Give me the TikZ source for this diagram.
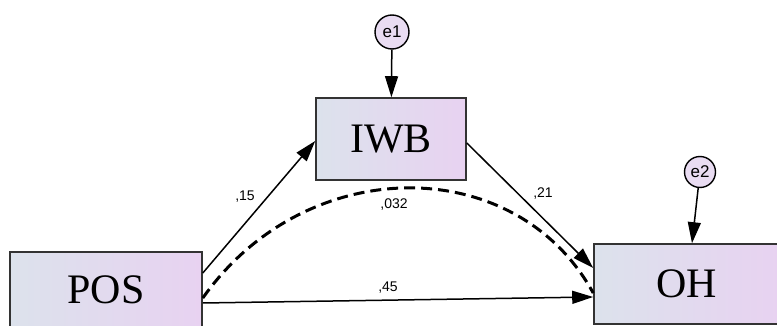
\documentclass[tikz,border=0pt]{standalone}
\usepackage{fontspec}
\setmainfont{Liberation Serif}
\newfontfamily\lblfont{Liberation Sans}
\usepackage{tikz}
\usetikzlibrary{arrows.meta}
\definecolor{boxleft}{HTML}{DCE2EC}
\definecolor{boxright}{HTML}{E8D2F1}
\definecolor{errfill}{HTML}{E9DCF2}

\tikzset{
  varbox/.style={draw=black!80, line width=1.6pt, left color=boxleft, right color=boxright,
    font=\fontsize{42}{42}\selectfont, inner sep=0pt},
  errnode/.style={circle, draw=black, line width=1.4pt, fill=errfill,
    inner sep=0pt, font=\lblfont\fontsize{17}{17}\selectfont},
  pathline/.style={line width=1.5pt, -{Triangle[length=21pt, width=13pt]}},
  coef/.style={font=\lblfont\fontsize{14}{14}\selectfont, inner sep=1pt}
}

\begin{document}
\begin{tikzpicture}[x=1pt, y=-1pt]
  \useasboundingbox (0,0) rectangle (777,326);

  % --- observed variables ---
  \node[varbox, minimum width=192pt, minimum height=76pt] (pos) at (106,290) {POS};
  \node[varbox, minimum width=150pt, minimum height=82pt] (iwb) at (391,139) {IWB};
  \node[varbox, minimum width=186pt, minimum height=80pt] (oh) at (687,284) {OH};

  % --- error terms ---
  \node[errnode, minimum size=34pt] (e1) at (392,32) {e1};
  \node[errnode, minimum size=31pt] (e2) at (700,172) {e2};

  % Error arrows
  \draw[pathline] (e1) -- (iwb);
  \draw[pathline] (e2) -- ([xshift=5pt]oh.north);

  % Paths
  \draw[pathline] ([yshift=17pt]pos.east) -- ([yshift=-2pt]iwb.west);
  \draw[pathline] ([yshift=-4pt]iwb.east) -- ([yshift=16pt]oh.west);
  \draw[pathline] ([yshift=-13pt]pos.east) -- ([yshift=-13pt]oh.west);
  % Indirect effect (dashed)
  \draw[line width=3pt, dash pattern=on 11pt off 6pt]
    ([yshift=-8pt]pos.east) .. controls (306,152) and (516,152) .. ([yshift=-9pt]oh.west);

  % Coefficients
  \node[coef] (c15) at (245,197) {,15};
  \node[coef] (c21) at (543,194) {,21};
  \node[coef] (c032) at (394,205) {,032};
  \node[coef] (c45) at (388,288) {,45};

\end{tikzpicture}
\end{document}
